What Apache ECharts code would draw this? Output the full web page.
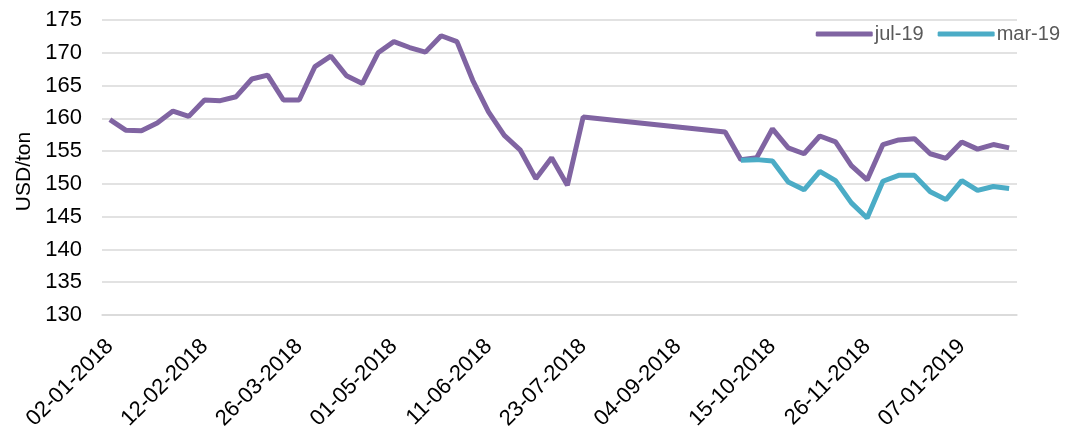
<!DOCTYPE html>
<html>
<head>
<meta charset="utf-8">
<script src="https://cdn.jsdelivr.net/npm/echarts@6/dist/echarts.min.js"></script>
<style>
  html, body { margin: 0; padding: 0; background: #fff; }
  #main { width: 1069px; height: 437px; }
</style>
</head>
<body>
<div id="main"></div>
<script>
// weekly dates, every 6th one is labelled
var dates = [
  '02-01-2018','08-01-2018','15-01-2018','22-01-2018','29-01-2018','05-02-2018',
  '12-02-2018','19-02-2018','26-02-2018','05-03-2018','12-03-2018','19-03-2018',
  '26-03-2018','29-03-2018','03-04-2018','09-04-2018','16-04-2018','23-04-2018',
  '01-05-2018','07-05-2018','14-05-2018','21-05-2018','28-05-2018','04-06-2018',
  '11-06-2018','18-06-2018','25-06-2018','02-07-2018','09-07-2018','16-07-2018',
  '23-07-2018','30-07-2018','06-08-2018','13-08-2018','20-08-2018','27-08-2018',
  '04-09-2018','10-09-2018','17-09-2018','24-09-2018','01-10-2018','08-10-2018',
  '15-10-2018','22-10-2018','29-10-2018','05-11-2018','12-11-2018','19-11-2018',
  '26-11-2018','03-12-2018','10-12-2018','17-12-2018','24-12-2018','31-12-2018',
  '07-01-2019','14-01-2019','21-01-2019','28-01-2019'
];

// jul-19 contract (gap between late July and late September)
var jul19 = [
  159.8, 158.2, 158.1, 159.3, 161.1, 160.3,
  162.8, 162.7, 163.3, 166.0, 166.6, 162.8,
  162.8, 167.9, 169.5, 166.5, 165.3, 170.0,
  171.7, 170.8, 170.1, 172.6, 171.7, 165.8,
  161.0, 157.4, 155.2, 150.8, 154.0, 149.8,
  160.2, null, null, null, null, null,
  null, null, null, 157.9, 153.7, 154.0,
  158.4, 155.5, 154.6, 157.3, 156.4, 152.8,
  150.6, 156.0, 156.7, 156.9, 154.6, 153.9,
  156.4, 155.3, 156.0, 155.5
];

// mar-19 contract, starts in October
var mar19 = [
  null, null, null, null, null, null,
  null, null, null, null, null, null,
  null, null, null, null, null, null,
  null, null, null, null, null, null,
  null, null, null, null, null, null,
  null, null, null, null, null, null,
  null, null, null, null, 153.6, 153.7,
  153.5, 150.3, 149.1, 151.9, 150.5, 147.1,
  144.8, 150.4, 151.3, 151.3, 148.8, 147.6,
  150.5, 149.0, 149.6, 149.3
];

var chart = echarts.init(document.getElementById('main'));

var font = 'Liberation Sans, Arial, sans-serif';

chart.setOption({
  animation: false,
  grid: { left: 102, right: 52, top: 20, bottom: 122 },
  legend: {
    top: 19,
    right: 4,
    icon: 'roundRect',
    itemWidth: 57,
    itemHeight: 5,
    itemGap: 14,
    textStyle: { fontFamily: font, fontSize: 20, color: '#595959', padding: [0, 0, 0, -3] },
    data: ['jul-19', 'mar-19']
  },
  xAxis: {
    type: 'category',
    data: dates,
    boundaryGap: true,
    axisLine: { show: true, lineStyle: { color: '#d9d9d9', width: 1.5 } },
    axisTick: { show: false },
    axisLabel: {
      interval: 5,
      rotate: 45,
      margin: 28,
      fontFamily: font,
      fontSize: 22,
      color: '#000'
    }
  },
  yAxis: {
    type: 'value',
    min: 130,
    max: 175,
    interval: 5,
    name: 'USD/ton',
    nameLocation: 'middle',
    nameGap: 66,
    nameTextStyle: { fontFamily: font, fontSize: 21, color: '#000', padding: [0, 0, 0, -8] },
    axisLine: { show: false },
    axisTick: { show: false },
    axisLabel: { fontFamily: font, fontSize: 22, color: '#000', margin: 20 },
    splitLine: { lineStyle: { color: '#d9d9d9', width: 1.5 } }
  },
  series: [
    {
      name: 'jul-19',
      type: 'line',
      data: jul19,
      connectNulls: true,
      symbol: 'none',
      itemStyle: { color: '#8064a2' },
      lineStyle: { color: '#8064a2', width: 5 }
    },
    {
      name: 'mar-19',
      type: 'line',
      data: mar19,
      connectNulls: true,
      symbol: 'none',
      itemStyle: { color: '#4bacc6' },
      lineStyle: { color: '#4bacc6', width: 5 }
    }
  ]
});
</script>
</body>
</html>
